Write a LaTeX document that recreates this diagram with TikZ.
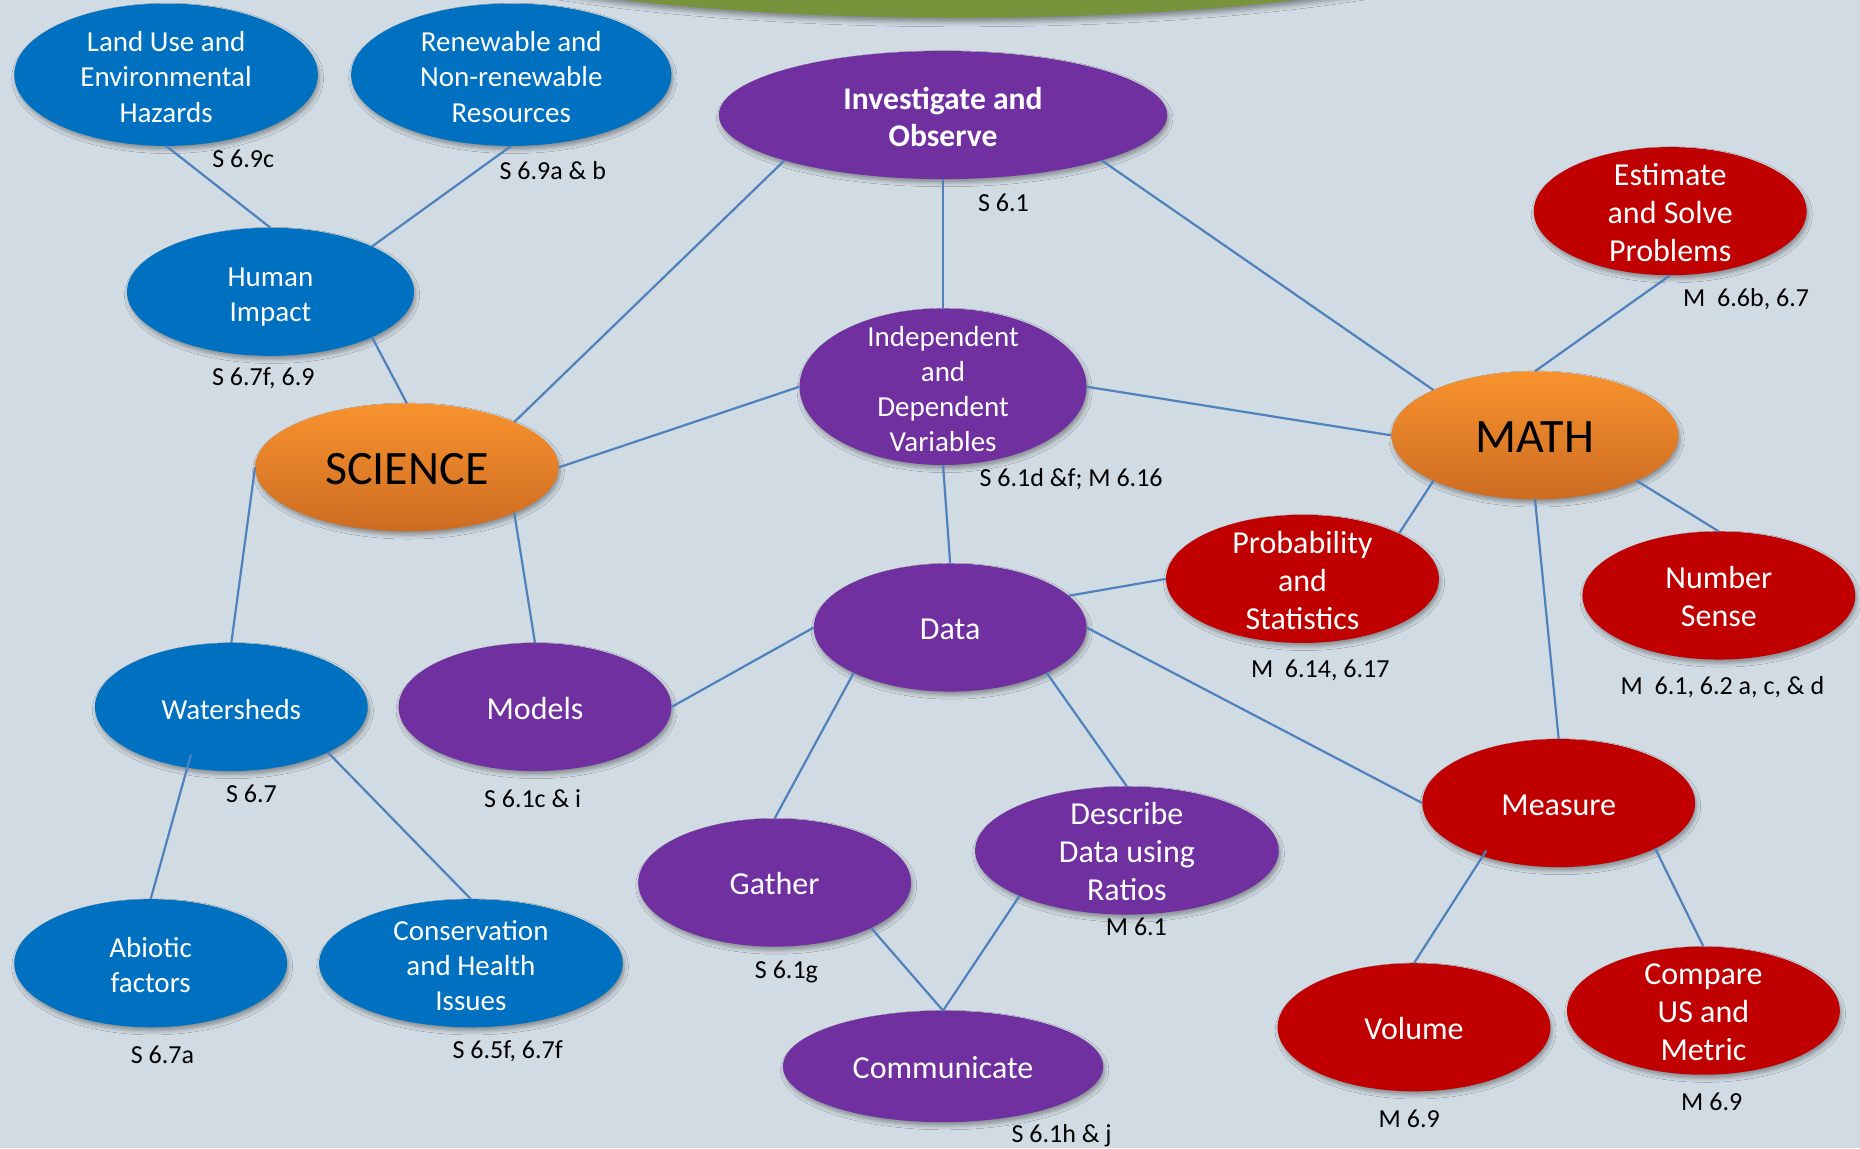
\documentclass[tikz,border=0pt]{standalone}
\usepackage{fontspec}
\setmainfont{Carlito}
\usetikzlibrary{shapes.geometric,shadows.blur}

\definecolor{bgcol}{HTML}{D1DBE3}
\definecolor{lnblue}{HTML}{4F81BD}
\definecolor{sciblue}{HTML}{0070C0}
\definecolor{procpurple}{HTML}{7030A0}
\definecolor{mathred}{HTML}{C00000}
\definecolor{ortop}{HTML}{F8922E}
\definecolor{orbot}{HTML}{CD6C22}
\definecolor{topgreen}{HTML}{77933C}

% text of a bubble, kept out of the node size
\newcommand{\ntext}[1]{\smash{\makebox[0pt]{\raisebox{\dimexpr-0.3em-1.8pt\relax}{\begin{tabular}{@{}c@{}}#1\end{tabular}}}}}

\tikzset{
  bubble/.style={ellipse, inner sep=0pt, outer sep=0pt, text=white,
    blur shadow={shadow xshift=0.8pt, shadow yshift=-1.8pt, shadow blur radius=2pt, shadow opacity=35}},
  wh/.style 2 args={minimum width=#1*0.5931pt, minimum height=#2*0.5931pt},
  scinode/.style={bubble, fill=sciblue, font=\fontsize{14.5}{17.6}\selectfont},
  procnode/.style={bubble, fill=procpurple, font=\fontsize{16}{19}\selectfont},
  mathnode/.style={bubble, fill=mathred, font=\fontsize{16}{19}\selectfont},
  hubnode/.style={bubble, top color=ortop, bottom color=orbot, text=black, font=\fontsize{24}{29}\selectfont},
  stdlabel/.style={inner sep=0pt, font=\fontsize{13}{15.6}\selectfont},
  link/.style={draw=lnblue, line width=1.1pt}
}

\begin{document}
\begin{tikzpicture}[x=0.5931pt, y=-0.5931pt]
\useasboundingbox (0,0) rectangle (1568,968);
\clip (0,0) rectangle (1568,968);
\fill[bgcol] (0,0) rectangle (1568,968);
\fill[topgreen, blur shadow={shadow xshift=0.8pt, shadow yshift=-2pt, shadow blur radius=2.5pt, shadow opacity=40}] (809,-69) ellipse [x radius=497, y radius=84];

% science side
\node[scinode, wh={256}{120}] (land) at (140,63) {\ntext{Land Use and\\Environmental\\Hazards}};
\node[scinode, wh={270}{120}] (renew) at (431,63) {\ntext{Renewable and\\Non-renewable\\Resources}};
\node[scinode, wh={242}{108}] (human) at (228,246) {\ntext{Human\\Impact}};
\node[hubnode, wh={256}{108}] (science) at (343,394) {\ntext{SCIENCE}};
\node[scinode, wh={230}{108}] (water) at (195,596) {\ntext{Watersheds}};
\node[scinode, wh={230}{108}] (abiotic) at (127,812) {\ntext{Abiotic\\factors}};
\node[scinode, wh={256}{108}] (conserv) at (397,812) {\ntext{Conservation\\and Health\\Issues}};

% process
\node[procnode, wh={378}{108}, font=\fontsize{15.8}{18.4}\selectfont\bfseries] (invest) at (795,97) {\ntext{Investigate and\\Observe}};
\node[procnode, wh={242}{132}, font=\fontsize{14.5}{17.6}\selectfont] (indep) at (795,326) {\ntext{Independent\\and\\Dependent\\Variables}};
\node[procnode, wh={230}{108}] (data) at (801,529) {\ntext{Data}};
\node[procnode, wh={230}{108}] (models) at (451,596) {\ntext{Models}};
\node[procnode, wh={230}{108}] (gather) at (653,744) {\ntext{Gather}};
\node[procnode, wh={256}{108}] (describe) at (950,717) {\ntext{Describe\\Data using\\Ratios}};
\node[procnode, wh={270}{94}] (commun) at (795,899) {\ntext{Communicate}};

% math side
\node[mathnode, wh={230}{108}] (estim) at (1408,178) {\ntext{Estimate\\and Solve\\Problems}};
\node[hubnode, wh={242}{108}] (math) at (1294,367) {\ntext{MATH}};
\node[mathnode, wh={230}{108}] (prob) at (1098,488) {\ntext{Probability\\and\\Statistics}};
\node[mathnode, wh={230}{108}] (numsense) at (1449,502) {\ntext{Number\\Sense}};
\node[mathnode, wh={230}{108}] (measure) at (1314,677) {\ntext{Measure}};
\node[mathnode, wh={230}{108}] (volume) at (1192,866) {\ntext{Volume}};
\node[mathnode, wh={230}{108}] (compare) at (1436,852) {\ntext{Compare\\US and\\Metric}};

\coordinate (water-in) at (161,636);
\coordinate (measure-in) at (1253,717);

\draw[link] (land.south) -- (human.north);
\draw[link] (renew.south) -- (human.north east);
\draw[link] (human.south east) -- (science.north);
\draw[link] (science.north east) -- (invest.south west);
\draw[link] (science.east) -- (indep.west);
\draw[link] (science.west) -- (water.north);
\draw[link] (science.south east) -- (models.north);
\draw[link] (invest.south) -- (indep.north);
\draw[link] (invest.south east) -- (math.north west);
\draw[link] (indep.east) -- (math.west);
\draw[link] (indep.south) -- (data.north);
\draw[link] (estim.south) -- (math.north);
\draw[link] (math.south west) -- (prob.north east);
\draw[link] (math.south east) -- (numsense.north);
\draw[link] (math.south) -- (measure.north);
\draw[link] (data.15) -- (prob.west);
\draw[link] (data.east) -- (measure.west);
\draw[link] (data.west) -- (models.east);
\draw[link] (data.south west) -- (gather.north);
\draw[link] (data.south east) -- (describe.north);
\draw[link] (gather.south east) -- (commun.north);
\draw[link] (describe.south west) -- (commun.north);
\draw[link] (water-in) -- (abiotic.north);
\draw[link] (water.south east) -- (conserv.north);
\draw[link] (measure-in) -- (volume.north);
\draw[link] (measure.south east) -- (compare.north);

% standards
\node[stdlabel] (s1) at (205,134) {S 6.9c};
\node[stdlabel] (s2) at (466,144) {S 6.9a \& b};
\node[stdlabel] (s3) at (846,171) {S 6.1};
\node[stdlabel] (s4) at (1472,252) {M~~6.6b, 6.7};
\node[stdlabel] (s5) at (222,319) {S 6.7f, 6.9};
\node[stdlabel] (s6) at (903,404) {S 6.1d \&f; M 6.16};
\node[stdlabel] (s7) at (1113,565) {M~~6.14, 6.17};
\node[stdlabel] (s8) at (1452,579) {M~~6.1, 6.2 a, c, \& d};
\node[stdlabel] (s9) at (212,669) {S 6.7};
\node[stdlabel] (s10) at (449,673) {S 6.1c \& i};
\node[stdlabel] (s11) at (663,819) {S 6.1g};
\node[stdlabel] (s12) at (958,781) {M 6.1};
\node[stdlabel] (s13) at (137,889) {S 6.7a};
\node[stdlabel] (s14) at (428,886) {S 6.5f, 6.7f};
\node[stdlabel] (s15) at (895,957) {S 6.1h \& j};
\node[stdlabel] (s16) at (1188,943) {M 6.9};
\node[stdlabel] (s17) at (1443,929) {M 6.9};

\end{tikzpicture}
\end{document}
